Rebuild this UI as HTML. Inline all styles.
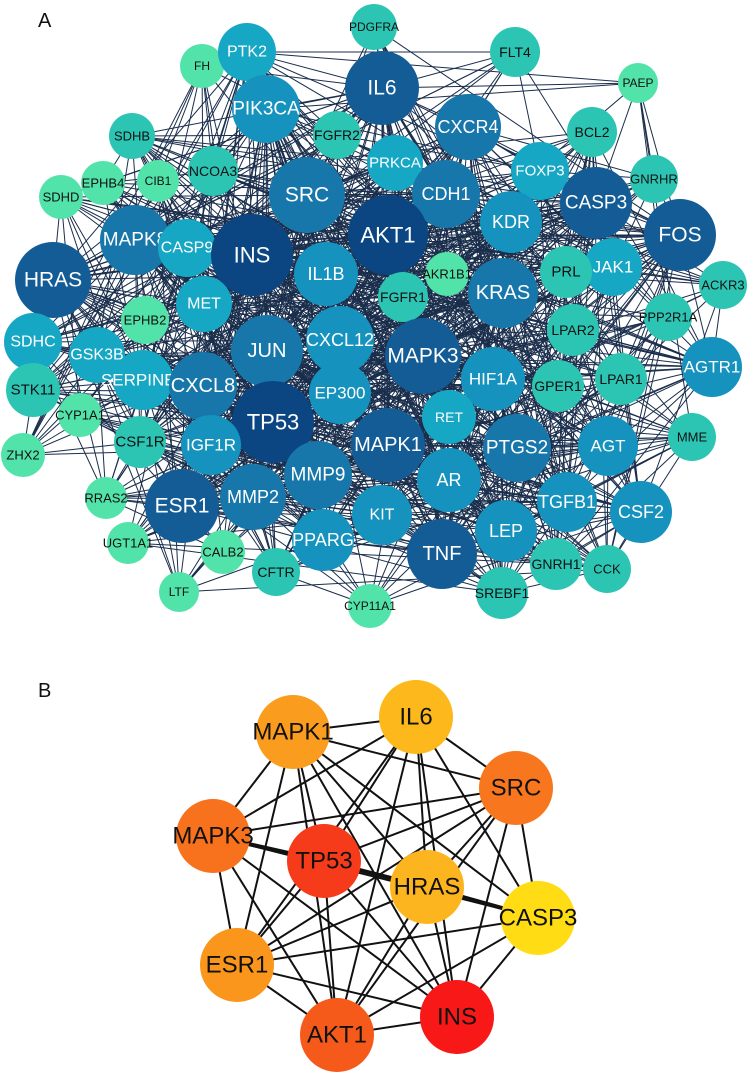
<!DOCTYPE html>
<html><head><meta charset="utf-8"><style>
html,body{margin:0;padding:0;background:#fff;width:749px;height:1074px;overflow:hidden}
svg{display:block;font-family:"Liberation Sans",Arial,sans-serif}
.c1{fill:#0b4683}.c2{fill:#135c96}.c3{fill:#1877aa}.c4{fill:#1592bd}.c5{fill:#16a7c4}.c6{fill:#2cc5b4}.c7{fill:#52e3aa}
#A text{fill:#fff;text-anchor:middle;dominant-baseline:central}
#A text.k{fill:#111}
#B text{fill:#111;text-anchor:middle;dominant-baseline:central;font-size:24px}
</style></head><body>
<svg width="749" height="1074" viewBox="0 0 749 1074">
<text x="38" y="27" font-size="20" fill="#111">A</text>
<text x="38" y="697" font-size="20" fill="#111">B</text>
<g id="eA" stroke="#1a2e4c" stroke-width="1"></g>
<g id="A">
<circle cx="374" cy="27" r="23" class="c6"/><text x="374" y="27" class="k" font-size="12">PDGFRA</text>
<circle cx="515" cy="52" r="25" class="c6"/><text x="515" y="52" class="k" font-size="14">FLT4</text>
<circle cx="638" cy="83" r="20" class="c7"/><text x="638" y="83" class="k" font-size="12">PAEP</text>
<circle cx="202" cy="66" r="22" class="c7"/><text x="202" y="66" class="k" font-size="12">FH</text>
<circle cx="247" cy="52" r="29" class="c5"/><text x="247" y="52" font-size="16">PTK2</text>
<circle cx="382" cy="88" r="37" class="c2"/><text x="382" y="88" font-size="21">IL6</text>
<circle cx="266" cy="109" r="34" class="c4"/><text x="266" y="109" font-size="19">PIK3CA</text>
<circle cx="337" cy="135" r="24" class="c6"/><text x="337" y="135" class="k" font-size="14">FGFR2</text>
<circle cx="468" cy="127" r="33" class="c3"/><text x="468" y="127" font-size="18">CXCR4</text>
<circle cx="592" cy="132" r="25" class="c6"/><text x="592" y="132" class="k" font-size="14">BCL2</text>
<circle cx="132" cy="136" r="23" class="c6"/><text x="132" y="136" class="k" font-size="13">SDHB</text>
<circle cx="103" cy="183" r="22" class="c7"/><text x="103" y="183" class="k" font-size="13">EPHB4</text>
<circle cx="158" cy="181" r="21" class="c7"/><text x="158" y="181" class="k" font-size="12">CIB1</text>
<circle cx="213" cy="171" r="25" class="c6"/><text x="213" y="171" class="k" font-size="14">NCOA3</text>
<circle cx="395" cy="163" r="28" class="c5"/><text x="395" y="163" font-size="15">PRKCA</text>
<circle cx="540" cy="171" r="29" class="c5"/><text x="540" y="171" font-size="15">FOXP3</text>
<circle cx="654" cy="179" r="24" class="c6"/><text x="654" y="179" class="k" font-size="13">GNRHR</text>
<circle cx="61" cy="197" r="22" class="c7"/><text x="61" y="197" class="k" font-size="13">SDHD</text>
<circle cx="307" cy="195" r="38" class="c3"/><text x="307" y="195" font-size="21">SRC</text>
<circle cx="446" cy="194" r="34" class="c3"/><text x="446" y="194" font-size="18">CDH1</text>
<circle cx="596" cy="203" r="36" class="c2"/><text x="596" y="203" font-size="19">CASP3</text>
<circle cx="680" cy="235" r="36" class="c2"/><text x="680" y="235" font-size="21">FOS</text>
<circle cx="511" cy="222" r="31" class="c4"/><text x="511" y="222" font-size="18">KDR</text>
<circle cx="388" cy="235" r="40" class="c1"/><text x="388" y="235" font-size="22">AKT1</text>
<circle cx="135" cy="240" r="35" class="c3"/><text x="135" y="240" font-size="19">MAPK8</text>
<circle cx="187" cy="248" r="29" class="c5"/><text x="187" y="248" font-size="16">CASP9</text>
<circle cx="252" cy="255" r="41" class="c1"/><text x="252" y="255" font-size="22">INS</text>
<circle cx="53" cy="280" r="38" class="c2"/><text x="53" y="280" font-size="21">HRAS</text>
<circle cx="613" cy="267" r="29" class="c5"/><text x="613" y="267" font-size="17">JAK1</text>
<circle cx="566" cy="272" r="26" class="c6"/><text x="566" y="272" class="k" font-size="15">PRL</text>
<circle cx="723" cy="285" r="24" class="c6"/><text x="723" y="285" class="k" font-size="13">ACKR3</text>
<circle cx="326" cy="274" r="32" class="c4"/><text x="326" y="274" font-size="18">IL1B</text>
<circle cx="447" cy="274" r="22" class="c7"/><text x="447" y="274" class="k" font-size="13">AKR1B1</text>
<circle cx="503" cy="293" r="35" class="c3"/><text x="503" y="293" font-size="20">KRAS</text>
<circle cx="403" cy="297" r="25" class="c6"/><text x="403" y="297" class="k" font-size="14">FGFR1</text>
<circle cx="204" cy="304" r="28" class="c5"/><text x="204" y="304" font-size="16">MET</text>
<circle cx="573" cy="330" r="26" class="c6"/><text x="573" y="330" class="k" font-size="14">LPAR2</text>
<circle cx="668" cy="317" r="24" class="c6"/><text x="668" y="317" class="k" font-size="13">PPP2R1A</text>
<circle cx="33" cy="342" r="29" class="c5"/><text x="33" y="342" font-size="16">SDHC</text>
<circle cx="97" cy="355" r="28" class="c5"/><text x="97" y="355" font-size="16">GSK3B</text>
<circle cx="145" cy="320" r="24" class="c7"/><text x="145" y="320" class="k" font-size="13">EPHB2</text>
<circle cx="267" cy="351" r="36" class="c3"/><text x="267" y="351" font-size="20">JUN</text>
<circle cx="340" cy="340" r="34" class="c4"/><text x="340" y="340" font-size="18">CXCL12</text>
<circle cx="423" cy="356" r="38" class="c2"/><text x="423" y="356" font-size="21">MAPK3</text>
<circle cx="621" cy="379" r="26" class="c6"/><text x="621" y="379" class="k" font-size="14">LPAR1</text>
<circle cx="712" cy="367" r="30" class="c4"/><text x="712" y="367" font-size="17">AGTR1</text>
<circle cx="33" cy="390" r="27" class="c6"/><text x="33" y="390" class="k" font-size="15">STK11</text>
<circle cx="143" cy="380" r="30" class="c5"/><text x="143" y="380" font-size="17">SERPINE1</text>
<circle cx="203" cy="386" r="34" class="c3"/><text x="203" y="386" font-size="20">CXCL8</text>
<circle cx="493" cy="379" r="32" class="c4"/><text x="493" y="379" font-size="17">HIF1A</text>
<circle cx="558" cy="386" r="26" class="c6"/><text x="558" y="386" class="k" font-size="14">GPER1</text>
<circle cx="340" cy="393" r="31" class="c4"/><text x="340" y="393" font-size="17">EP300</text>
<circle cx="80" cy="415" r="22" class="c7"/><text x="80" y="415" class="k" font-size="13">CYP1A1</text>
<circle cx="273" cy="422" r="41" class="c1"/><text x="273" y="422" font-size="22">TP53</text>
<circle cx="449" cy="417" r="27" class="c5"/><text x="449" y="417" font-size="14">RET</text>
<circle cx="140" cy="442" r="26" class="c6"/><text x="140" y="442" class="k" font-size="15">CSF1R</text>
<circle cx="211" cy="445" r="30" class="c4"/><text x="211" y="445" font-size="17">IGF1R</text>
<circle cx="23" cy="455" r="22" class="c7"/><text x="23" y="455" class="k" font-size="13">ZHX2</text>
<circle cx="388" cy="445" r="37" class="c2"/><text x="388" y="445" font-size="20">MAPK1</text>
<circle cx="517" cy="448" r="34" class="c3"/><text x="517" y="448" font-size="19">PTGS2</text>
<circle cx="608" cy="446" r="30" class="c4"/><text x="608" y="446" font-size="17">AGT</text>
<circle cx="692" cy="437" r="24" class="c6"/><text x="692" y="437" class="k" font-size="13">MME</text>
<circle cx="449" cy="480" r="32" class="c4"/><text x="449" y="480" font-size="18">AR</text>
<circle cx="318" cy="475" r="34" class="c3"/><text x="318" y="475" font-size="19">MMP9</text>
<circle cx="567" cy="502" r="30" class="c4"/><text x="567" y="502" font-size="18">TGFB1</text>
<circle cx="106" cy="498" r="21" class="c7"/><text x="106" y="498" class="k" font-size="13">RRAS2</text>
<circle cx="182" cy="506" r="37" class="c2"/><text x="182" y="506" font-size="21">ESR1</text>
<circle cx="253" cy="497" r="33" class="c3"/><text x="253" y="497" font-size="18">MMP2</text>
<circle cx="382" cy="515" r="30" class="c4"/><text x="382" y="515" font-size="16">KIT</text>
<circle cx="641" cy="512" r="31" class="c4"/><text x="641" y="512" font-size="18">CSF2</text>
<circle cx="506" cy="531" r="31" class="c4"/><text x="506" y="531" font-size="18">LEP</text>
<circle cx="128" cy="543" r="21" class="c7"/><text x="128" y="543" class="k" font-size="13">UGT1A1</text>
<circle cx="323" cy="540" r="31" class="c4"/><text x="323" y="540" font-size="18">PPARG</text>
<circle cx="442" cy="554" r="35" class="c2"/><text x="442" y="554" font-size="20">TNF</text>
<circle cx="556" cy="564" r="26" class="c6"/><text x="556" y="564" class="k" font-size="14">GNRH1</text>
<circle cx="607" cy="569" r="24" class="c6"/><text x="607" y="569" class="k" font-size="13">CCK</text>
<circle cx="223" cy="552" r="22" class="c7"/><text x="223" y="552" class="k" font-size="13">CALB2</text>
<circle cx="276" cy="572" r="24" class="c6"/><text x="276" y="572" class="k" font-size="14">CFTR</text>
<circle cx="502" cy="593" r="26" class="c6"/><text x="502" y="593" class="k" font-size="14">SREBF1</text>
<circle cx="179" cy="592" r="20" class="c7"/><text x="179" y="592" class="k" font-size="12">LTF</text>
<circle cx="370" cy="606" r="22" class="c7"/><text x="370" y="606" class="k" font-size="12">CYP11A1</text>
</g>
<g id="eB" stroke="#111" stroke-width="2"></g>
<line x1="213" y1="836" x2="324" y2="861" stroke="#111" stroke-width="4"/>
<line x1="324" y1="861" x2="427" y2="887" stroke="#111" stroke-width="4"/>
<line x1="427" y1="887" x2="538" y2="918" stroke="#111" stroke-width="4"/>
<g id="B">
<circle cx="416" cy="717" r="37" fill="#fdb91b"/><text x="416" y="717">IL6</text>
<circle cx="293" cy="732" r="37" fill="#fa9c1e"/><text x="293" y="732">MAPK1</text>
<circle cx="516" cy="788" r="37" fill="#f8771e"/><text x="516" y="788">SRC</text>
<circle cx="213" cy="836" r="37" fill="#f8711c"/><text x="213" y="836">MAPK3</text>
<circle cx="324" cy="861" r="37" fill="#f63b1a"/><text x="324" y="861">TP53</text>
<circle cx="427" cy="887" r="37" fill="#fdb51f"/><text x="427" y="887">HRAS</text>
<circle cx="538" cy="918" r="37" fill="#ffdc14"/><text x="538" y="918">CASP3</text>
<circle cx="237" cy="965" r="37" fill="#fb961c"/><text x="237" y="965">ESR1</text>
<circle cx="337" cy="1035" r="37" fill="#f65a1b"/><text x="337" y="1035">AKT1</text>
<circle cx="457" cy="1017" r="37" fill="#f81818"/><text x="457" y="1017">INS</text>
</g>
</svg>
<script>
(function(){
var ns="http://www.w3.org/2000/svg";
function nodes(id){return Array.prototype.map.call(document.querySelectorAll('#'+id+' circle'),function(c){return{x:+c.getAttribute('cx'),y:+c.getAttribute('cy'),r:+c.getAttribute('r')}}).filter(function(n){return n.r>0});}
var s=12345;function rnd(){s=(s*1103515245+12345)%2147483648;return s/2147483648;}
function ln(g,a,b){var l=document.createElementNS(ns,'line');l.setAttribute('x1',a.x);l.setAttribute('y1',a.y);l.setAttribute('x2',b.x);l.setAttribute('y2',b.y);g.appendChild(l);}
var A=nodes('A'),gA=document.getElementById('eA');
for(var i=0;i<A.length;i++)for(var j=i+1;j<A.length;j++){
 var a=A[i],b=A[j];var wa=Math.max(0,(a.r-17)/22),wb=Math.max(0,(b.r-17)/22);
 var d=Math.hypot(a.x-b.x,a.y-b.y);
 var p=Math.pow(wa*wb,1.0)*1.1+0.04; if(d<160)p+=0.15; if(d>420)p*=0.6;
 if(rnd()<p)ln(gA,a,b);
}
var B=nodes('B'),gB=document.getElementById('eB');
for(var i=0;i<B.length;i++)for(var j=i+1;j<B.length;j++)ln(gB,B[i],B[j]);
})();
</script>
</body></html>
